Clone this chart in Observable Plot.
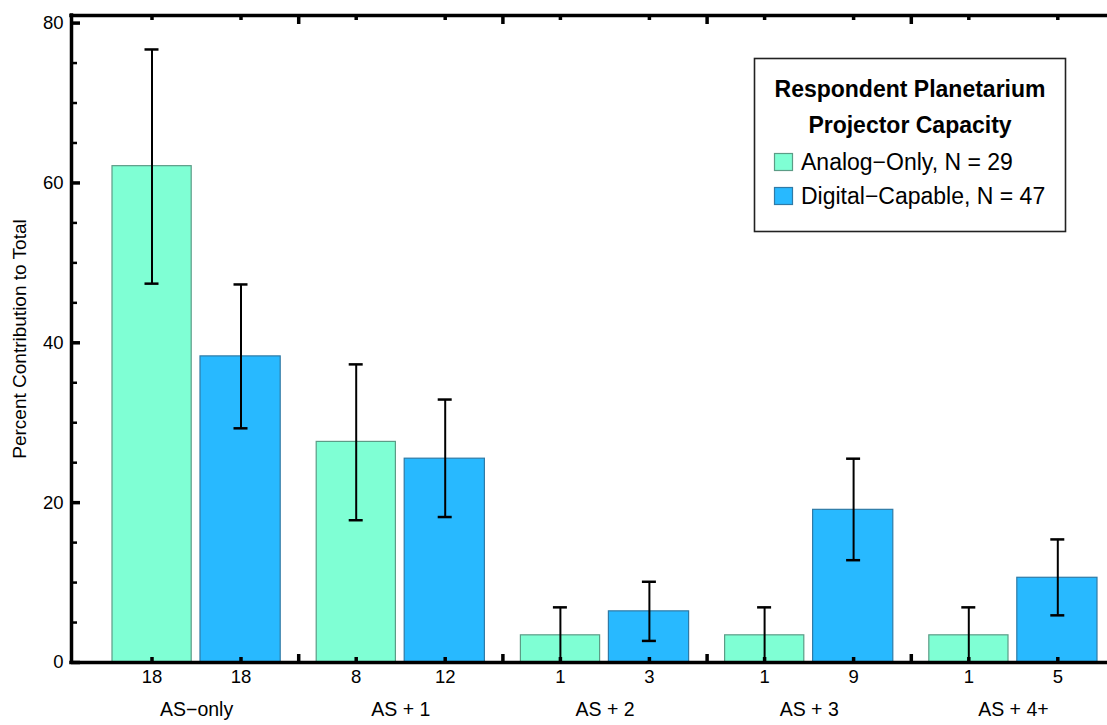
<!DOCTYPE html>
<html><head><meta charset="utf-8">
<script src="https://cdn.jsdelivr.net/npm/d3@7"></script>
<script src="https://cdn.jsdelivr.net/npm/@observablehq/plot@0.6"></script>
<style>
html,body{margin:0;padding:0;background:#fff;overflow:hidden}
#chart{position:relative;width:1107px;height:725px;font-family:"Liberation Sans",Arial,Helvetica,sans-serif}
#legend{position:absolute;left:0;top:0;pointer-events:none}
</style></head><body><div id="chart"></div>
<script>
// ---- data ----
const groups = ["AS\u2212only", "AS + 1", "AS + 2", "AS + 3", "AS + 4+"];
const seriesNames = ["Analog\u2212Only, N = 29", "Digital\u2212Capable, N = 47"];
const analogCounts = [18, 8, 1, 1, 1];
const digitalCounts = [18, 12, 3, 9, 5];
const analogPct = [62.1, 27.6, 3.4, 3.4, 3.4];
const digitalPct = [38.3, 25.5, 6.4, 19.1, 10.6];
const analogLow = [47.4, 17.8, 0, 0, 0];
const analogHigh = [76.7, 37.3, 6.9, 6.9, 6.9];
const digitalLow = [29.3, 18.2, 2.7, 12.8, 5.9];
const digitalHigh = [47.3, 32.9, 10.1, 25.5, 15.4];
const yMajorTicks = [0, 20, 40, 60, 80];
const yMinorTicks = [5, 10, 15, 25, 30, 35, 45, 50, 55, 65, 70, 75];
const legendTitle = ["Respondent Planetarium", "Projector Capacity"];
const yLabel = "Percent Contribution to Total";

// ---- layout / style ----
const W = 1107, H = 725;
const mL = 71, mR = 0, mT = 15, mB = 63;
const plotW = W - mL - mR, plotH = H - mT - mB;
const groupPx = 204.2;             // pixels per group slot
const X_MIN = -23 / groupPx, X_MAX = X_MIN + plotW / groupPx;
const Y_MAX = 80.95;
const colors = ["#7fffd4", "#28b9ff"];
const edgeColors = ["#5c9c86", "#2f7aa6"];
const S = [
  {insetLeft: 18, insetRight: 107, dx: 57.5},
  {insetLeft: 106, insetRight: 18, dx: 146.5}
];
const capHalf = 7;

const counts = [analogCounts, digitalCounts];
const pcts = [analogPct, digitalPct];
const lows = [analogLow, digitalLow];
const highs = [analogHigh, digitalHigh];
const rowsBySeries = [0, 1].map(s => groups.map((g, i) => ({
  group: g, gi: i, series: s, count: counts[s][i], pct: pcts[s][i], lo: lows[s][i], hi: highs[s][i]
})));
const separators = d3.range(1, groups.length);

const marks = [];
rowsBySeries.forEach((rows, s) => {
  const st = S[s];
  marks.push(Plot.rect(rows, {
    x1: "gi", x2: d => d.gi + 1, y1: () => 0, y2: "pct",
    insetLeft: st.insetLeft, insetRight: st.insetRight,
    fill: colors[s], stroke: edgeColors[s], strokeWidth: 1.2
  }));
});
rowsBySeries.forEach((rows, s) => {
  const st = S[s];
  marks.push(Plot.ruleX(rows, {x: "gi", y1: "lo", y2: "hi", dx: st.dx, stroke: "#000", strokeWidth: 2}));
  for (const key of ["lo", "hi"]) {
    marks.push(Plot.ruleY(rows, {
      y: key, x1: "gi", x2: d => d.gi + 1,
      insetLeft: st.dx - capHalf, insetRight: groupPx - st.dx - capHalf,
      stroke: "#000", strokeWidth: 2.5
    }));
  }
  // bar-centre ticks, bottom and top
  marks.push(Plot.ruleX(rows, {x: "gi", dx: st.dx, insetTop: plotH - 5, stroke: "#000", strokeWidth: 3.5}));
  marks.push(Plot.ruleX(rows, {x: "gi", dx: st.dx, insetBottom: plotH - 5, stroke: "#000", strokeWidth: 3.5}));
  // counts under bars
  marks.push(Plot.text(rows, {
    x: "gi", dx: st.dx, frameAnchor: "bottom", dy: 20, text: d => String(d.count),
    fontSize: 18.5, fill: "#000"
  }));
});
// group separator ticks
marks.push(Plot.ruleX(separators, {x: d => d, insetTop: plotH - 8, stroke: "#000", strokeWidth: 3.5}));
marks.push(Plot.ruleX(separators, {x: d => d, insetBottom: plotH - 9, stroke: "#000", strokeWidth: 3.5}));
// group labels
marks.push(Plot.text(groups, {
  x: (d, i) => i, dx: groupPx / 2, frameAnchor: "bottom", dy: 53, text: d => d, fontSize: 19.5, fill: "#000"
}));
// y ticks
marks.push(Plot.ruleY(yMajorTicks, {y: d => d, insetRight: plotW - 9, stroke: "#000", strokeWidth: 3.5}));
marks.push(Plot.ruleY(yMinorTicks, {y: d => d, insetRight: plotW - 6, stroke: "#000", strokeWidth: 2.5}));
marks.push(Plot.text(yMajorTicks, {
  y: d => d, frameAnchor: "left", dx: -8, textAnchor: "end", text: d => String(d), fontSize: 18.5, fill: "#000"
}));
// y label
marks.push(Plot.text([yLabel], {
  frameAnchor: "left", textAnchor: "middle", rotate: -90, dx: -52, text: d => d, fontSize: 19, fill: "#000"
}));
// frame lines
marks.push(Plot.ruleY([0], {stroke: "#000", strokeWidth: 3.5, strokeLinecap: "square"}));
marks.push(Plot.ruleY([Y_MAX], {stroke: "#000", strokeWidth: 3.5, strokeLinecap: "square"}));
marks.push(Plot.ruleX([X_MIN], {stroke: "#000", strokeWidth: 3.5, strokeLinecap: "square"}));

const chart = Plot.plot({
  width: W, height: H,
  marginLeft: mL, marginRight: mR, marginTop: mT, marginBottom: mB,
  x: {type: "linear", domain: [X_MIN, X_MAX], axis: null},
  y: {type: "linear", domain: [0, Y_MAX], axis: null},
  style: {fontFamily: '"Liberation Sans", Arial, Helvetica, sans-serif', background: "white", color: "#000", overflow: "visible"},
  marks
});
const container = document.getElementById("chart");
container.appendChild(chart);

// ---- legend (inset box) ----
const lg = d3.select(container).append("svg").attr("id", "legend")
  .attr("width", W).attr("height", H)
  .style("font-family", '"Liberation Sans", Arial, Helvetica, sans-serif');
lg.append("rect").attr("x", 754.5).attr("y", 58.5).attr("width", 311).attr("height", 173)
  .attr("fill", "white").attr("stroke", "#222").attr("stroke-width", 1.6);
legendTitle.forEach((t, i) => {
  lg.append("text").attr("x", 910).attr("y", 97 + i * 36).attr("text-anchor", "middle")
    .attr("font-weight", "bold").attr("font-size", 23).attr("fill", "#000").text(t);
});
seriesNames.forEach((t, i) => {
  const y0 = 170 + i * 34;
  lg.append("rect").attr("x", 774.5).attr("y", y0 - 16.5).attr("width", 18).attr("height", 17)
    .attr("fill", colors[i]).attr("stroke", edgeColors[i]).attr("stroke-width", 1.2);
  lg.append("text").attr("x", 801).attr("y", y0).attr("font-size", 23).attr("fill", "#000").text(t);
});
</script></body></html>
